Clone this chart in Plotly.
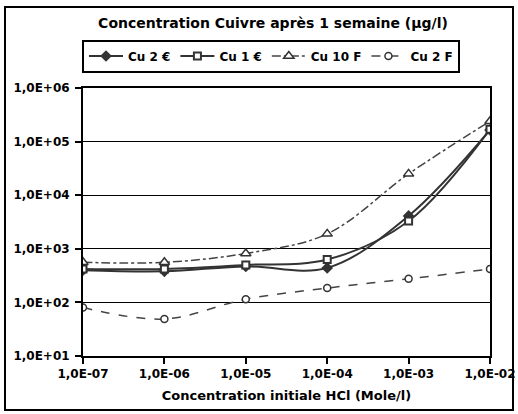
import plotly.graph_objects as go

x_vals = [1e-7, 1e-6, 1e-5, 1e-4, 1e-3, 1e-2]
cu2_euro = [400, 380, 470, 440, 4100, 165000]
cu1_euro = [420, 420, 500, 630, 3300, 170000]
cu10_f = [560, 560, 820, 1900, 25000, 240000]
cu2_f = [80, 49, 115, 185, 275, 420]

x_ticks = [1e-7, 1e-6, 1e-5, 1e-4, 1e-3, 1e-2]
x_tick_text = ["1,0E-07", "1,0E-06", "1,0E-05", "1,0E-04", "1,0E-03", "1,0E-02"]
y_ticks = [1e1, 1e2, 1e3, 1e4, 1e5, 1e6]
y_tick_text = ["1,0E+01", "1,0E+02", "1,0E+03", "1,0E+04", "1,0E+05", "1,0E+06"]

FONT = "DejaVu Sans"
W, H = 518, 414
L, R, T, B = 83, 28, 88, 58
pw, ph = W - L - R, H - T - B

fig = go.Figure()
fig.add_trace(go.Scatter(x=x_vals, y=cu2_euro, name="<b>Cu 2 €</b>", mode="lines+markers",
                         line=dict(color="#333333", width=2, shape="spline"),
                         marker=dict(symbol="diamond", size=9, color="#333333")))
fig.add_trace(go.Scatter(x=x_vals, y=cu1_euro, name="<b>Cu 1 €</b>", mode="lines+markers",
                         line=dict(color="#333333", width=2, shape="spline"),
                         marker=dict(symbol="square", size=7, color="white", line=dict(color="#333333", width=2))))
fig.add_trace(go.Scatter(x=x_vals, y=cu10_f, name="<b>Cu 10 F</b>", mode="lines+markers",
                         line=dict(color="#444444", width=1.5, dash="dashdot", shape="spline"),
                         marker=dict(symbol="triangle-up", size=9, color="white", line=dict(color="#333333", width=1.5))))
fig.add_trace(go.Scatter(x=x_vals, y=cu2_f, name="<b>Cu 2 F</b>", mode="lines+markers",
                         line=dict(color="#444444", width=1.5, dash="dash", shape="spline"),
                         marker=dict(symbol="circle", size=7, color="white", line=dict(color="#333333", width=1.5))))

def px_x(p):
    return (p - L) / pw

def px_y(p):
    return (H - B - p) / ph

fig.add_shape(type="rect", xref="paper", yref="paper",
              x0=px_x(5), x1=px_x(513), y0=px_y(410), y1=px_y(7),
              line=dict(color="black", width=2), layer="below")

fig.update_layout(
    width=W, height=H,
    margin=dict(l=L, r=R, t=T, b=B, autoexpand=False),
    paper_bgcolor="white", plot_bgcolor="white",
    font=dict(family=FONT, color="black", size=12),
    title=dict(text="<b>Concentration Cuivre après 1 semaine (µg/l)</b>", x=273 / W, xanchor="center", xref="container",
               y=1 - 23 / H, yanchor="middle", font=dict(size=14, family=FONT)),
    legend=dict(orientation="h", x=271 / W, xref="container", xanchor="center",
                y=1 - 56 / H, yref="container", yanchor="middle",
                bordercolor="black", borderwidth=2, bgcolor="white",
                font=dict(size=12, family=FONT), itemwidth=34, tracegroupgap=0),
    xaxis=dict(type="log", range=[-7, -2], tickvals=x_ticks, ticktext=["<b>%s</b>" % t for t in x_tick_text],
               showgrid=False, showline=True, linecolor="black", linewidth=2, mirror=True,
               ticks="outside", ticklen=6, tickcolor="black", tickwidth=2, automargin=False,
               tickfont=dict(size=12, family=FONT), zeroline=False,
               title=dict(text="<b>Concentration initiale HCl (Mole/l)</b>", font=dict(size=13, family=FONT), standoff=10)),
    yaxis=dict(type="log", range=[1, 6], tickvals=y_ticks, ticktext=["<b>%s</b>" % t for t in y_tick_text],
               showgrid=True, gridcolor="black", gridwidth=1, automargin=False,
               showline=True, linecolor="black", linewidth=2, mirror=True,
               ticks="outside", ticklen=6, tickcolor="black", tickwidth=2, ticklabelstandoff=3,
               tickfont=dict(size=12, family=FONT), zeroline=False),
)

fig.write_html("out.html", config={"displayModeBar": False},
               post_script="document.body.style.margin='0';document.body.style.overflow='hidden';")
